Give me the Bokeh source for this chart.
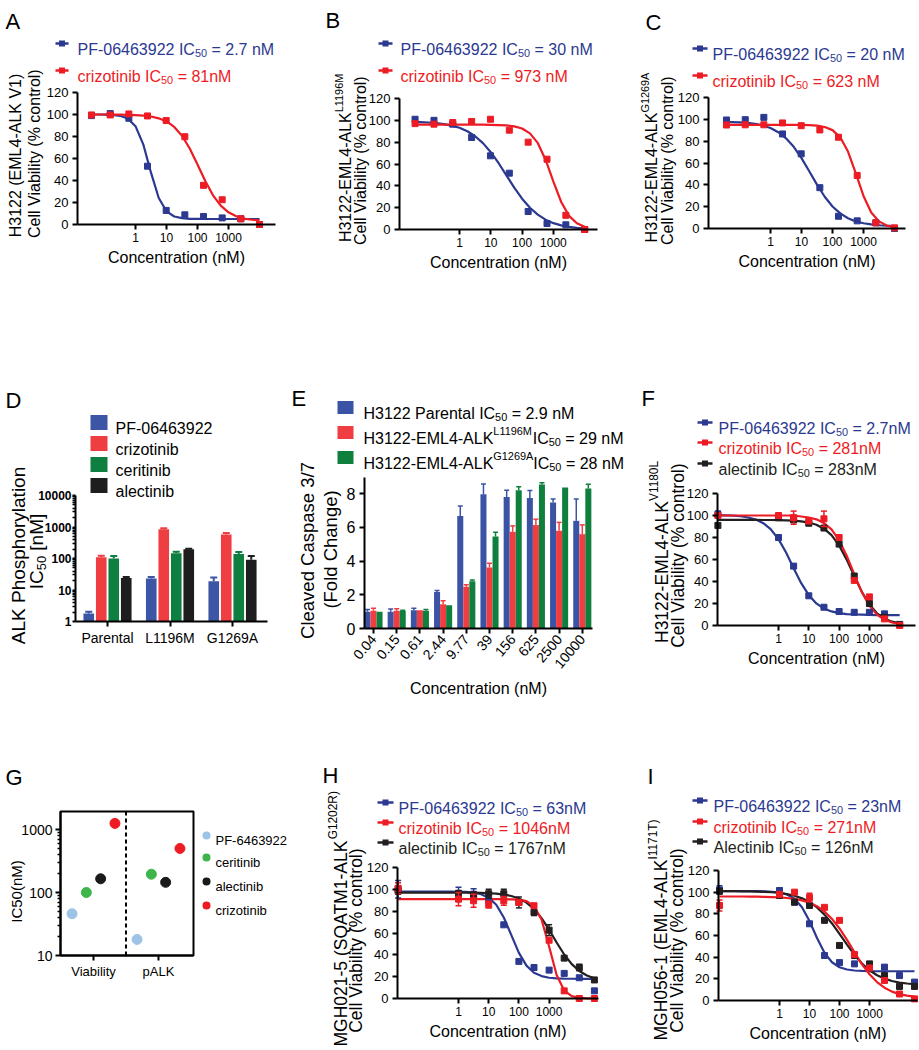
import math
from bokeh.plotting import figure
from bokeh.models import (Label, BoxAnnotation, Range1d, FixedTicker, NumeralTickFormatter,
                          LinearAxis, LogAxis)
from bokeh.layouts import row, column
from bokeh.embed import file_html
from bokeh.resources import INLINE

FONT = "Liberation Sans"
BLUE = "#2B3990"
RED = "#ED1C24"
BLACK = "#231F20"

# ---------------------------------------------------------------- data
X_TICKS = [1, 10, 100, 1000]
Y_TICKS = [0, 20, 40, 60, 80, 100, 120]

CONC_4FOLD = [0.038, 0.153, 0.61, 2.44, 9.77, 39.1, 156, 625, 2500, 10000]
CONC_HALFLOG = [0.01, 1, 3.16, 10, 31.6, 100, 316, 1000, 3162, 10000, 31623]

CURVE_X_ABC = [0.0316, 0.0562, 0.1, 0.178, 0.316, 0.562, 1, 1.78, 3.16, 5.62, 10, 17.8,
               31.6, 56.2, 100, 178, 316, 562, 1000, 1778, 3162, 5623, 10000]
CURVE_X_F = [0.01, 0.0178, 0.0316, 0.0562, 0.1, 0.178, 0.316, 0.562, 1, 1.78, 3.16, 5.62,
             10, 17.8, 31.6, 56.2, 100, 178, 316, 562, 1000, 1778, 3162, 5623, 10000]
CURVE_X_HI = [0.01, 0.0178, 0.0316, 0.0562, 0.1, 0.178, 0.316, 0.562, 1, 1.78, 3.16, 5.62,
              10, 17.8, 31.6, 56.2, 100, 178, 316, 562, 1000, 1778, 3162, 5623, 10000,
              17783, 31623]

# Panel A
A_PF = [99, 100.8, 96.6, 53, 12.8, 8.8, 7.3, 6, 5.2, 0]
A_CRIZ = [99.6, 99.6, 100.5, 98.7, 94.5, 79.8, 35.6, 22.5, 5.2, 0]
A_PF_FIT = [100, 100, 99.9, 99.6, 98.8, 96.4, 89.4, 72.9, 47.1, 24.1, 12.0, 7.3, 5.8, 5.2,
            5.1, 5.0, 5.0, 5.0, 5.0, 5.0, 5.0, 5.0, 5.0]
A_CRIZ_FIT = [100, 100, 100, 99.9, 99.8, 99.7, 99.5, 99.0, 98.2, 96.5, 93.7, 88.7, 80.7,
              69.1, 54.6, 39.5, 26.5, 17.1, 11.1, 7.5, 5.4, 4.3, 3.7]
# Panel B
B_PF = [101, 100, 96.5, 84.3, 67.5, 51.6, 16.5, 5.5, 4.3, 0]
B_CRIZ = [97, 96.5, 98, 99, 101, 91, 80, 64.4, 13, 0]
B_PF_FIT = [98.6, 98.4, 98.0, 97.4, 96.5, 95.2, 93.2, 90.0, 85.4, 79.1, 70.8, 60.7, 49.5,
            38.3, 28.2, 19.9, 13.6, 9.0, 5.8, 3.8, 2.4, 1.5, 1.0]
B_CRIZ_FIT = [96.0, 96.0, 96.0, 96.0, 96.0, 96.0, 96.0, 96.0, 96.0, 96.0, 95.9, 95.7, 95.4,
              94.5, 92.5, 88.1, 79.3, 63.9, 43.9, 25.2, 12.5, 5.7, 2.5]
# Panel C
C_PF = [99.4, 99.7, 101.8, 86.6, 68.4, 37.4, 11.2, 7.0, 5.2, 0]
C_CRIZ = [94.8, 95, 95, 96.7, 94.2, 90.3, 83.6, 48.6, 5.2, 0.6]
C_PF_FIT = [97.7, 97.5, 97.2, 96.7, 95.8, 94.4, 92.0, 88.2, 82.6, 74.8, 64.5, 52.5, 40.2,
            29.1, 20.2, 13.8, 9.4, 6.5, 4.8, 3.7, 3.0, 2.6, 2.3]
C_CRIZ_FIT = [95.0, 95.0, 95.0, 95.0, 95.0, 95.0, 95.0, 95.0, 95.0, 94.9, 94.9, 94.7, 94.2,
              93.0, 90.1, 83.5, 70.5, 50.7, 29.8, 14.6, 6.5, 2.7, 1.1]
# Panel D
D_GROUPS = ["Parental", "L1196M", "G1269A"]
D_DRUGS = ["PF-06463922", "crizotinib", "ceritinib", "alectinib"]
D_PF = [1.8, 23, 19]
D_CRIZ = [110, 850, 580]
D_CERI = [100, 147, 140]
D_ALEC = [24, 195, 91]
D_PF_ERR = [0.25, 3, 6]
D_CRIZ_ERR = [12, 60, 70]
D_CERI_ERR = [20, 18, 20]
D_ALEC_ERR = [2, 10, 29]
# Panel E
E_CONC = ["0.04", "0.15", "0.61", "2.44", "9.77", "39", "156", "625", "2500", "10000"]
E_PAR = [1.0, 1.0, 1.08, 2.17, 6.66, 7.96, 7.8, 7.73, 7.47, 6.38]
E_PAR_ERR = [0.12, 0.15, 0.12, 0.08, 0.6, 0.6, 0.4, 0.45, 0.2, 1.3]
E_L1196M = [1.05, 1.05, 1.08, 1.44, 2.47, 3.62, 5.73, 6.13, 5.79, 5.59]
E_L1196M_ERR = [0.15, 0.12, 0.0, 0.2, 0.12, 0.25, 0.35, 0.35, 0.5, 0.55]
E_G1269A = [1.0, 1.03, 1.05, 1.38, 2.8, 5.45, 8.2, 8.54, 8.36, 8.3]
E_G1269A_ERR = [0.0, 0.05, 0.08, 0.0, 0.07, 0.25, 0.2, 0.1, 0.0, 0.25]
# Panel F
F_PF = [101, 80, 54, 27, 16.6, 12.7, 12, 12, 10.6]
F_CRIZ = [100, 100, 98, 95, 97, 80, 41, 26, 6, 0]
F_ALEC = [91, 98, 96, 93, 88.6, 74, 45, 20, 7.5, 1]
F_PF_ERR = [3, 0, 0, 0, 0, 0, 0, 0, 0]
F_CRIZ_ERR = [0, 0, 6, 0, 7, 0, 0, 0, 0, 0]
F_ALEC_ERR = [0, 2, 2, 2, 2, 0, 0, 0, 0, 0]
F_PF_FIT = [100.3, 100.1, 99.9, 99.3, 98.2, 96.3, 93.0, 87.3, 78.5, 66.3, 52.1, 38.5, 27.6,
            20.1, 15.4, 12.8, 11.2, 10.4, 10.0, 9.8, 9.6, 9.5, 9.5, 9.5, 9.5]
F_CRIZ_FIT = [100.0, 100.0, 100.0, 100.0, 100.0, 100.0, 100.0, 100.0, 100.0, 100.0, 100.0,
              99.1, 98.2, 96.5, 93.2, 87.4, 77.6, 63.5, 46.6, 30.4, 18.0, 9.9, 5.2, 2.7, 1.4]
F_ALEC_FIT = [96.0, 96.0, 96.0, 96.0, 96.0, 96.0, 95.9, 95.9, 95.8, 95.6, 95.3, 94.7, 93.6,
              91.6, 88.0, 82.1, 72.8, 59.9, 44.9, 30.6, 19.1, 11.1, 6.2, 3.5, 1.9]
# Panel G
G_CATS = ["Viability", "pALK"]
G_DRUGS = ["PF-6463922", "ceritinib", "alectinib", "crizotinib"]
G_VIABILITY = [46, 100, 165, 1250]
G_PALK = [18, 195, 145, 500]
# Panel H
H_PF = [100, 96, 95.5, 90, 67.5, 34, 28.4, 26, 23, 19, 7]
H_CRIZ = [101, 91, 89.5, 86, 89.5, 88, 85, 53.4, 7, 0, 0]
H_ALEC = [98.6, 96, 95, 96, 96, 88, 79, 62.6, 37, 28.4, 17]
H_PF_ERR = [8, 6, 5, 0, 0, 0, 0, 0, 0, 0, 0]
H_CRIZ_ERR = [5, 6, 6, 3, 4, 0, 0, 0, 0, 0, 0]
H_ALEC_ERR = [3, 3, 0, 4, 4, 5, 3, 5, 0, 3, 0]
H_PF_FIT = [98.0, 98.0, 98.0, 98.0, 98.0, 98.0, 98.0, 97.9, 97.8, 97.6, 97.0, 95.5, 92.4,
            85.9, 74.2, 58.0, 41.8, 30.1, 23.6, 20.5, 19.0, 18.5, 18.2, 18.1, 18.0, 18.0, 18.0]
H_CRIZ_FIT = [91.0, 91.0, 91.0, 91.0, 91.0, 91.0, 91.0, 91.0, 91.0, 91.0, 91.0, 91.0, 91.0,
              91.0, 91.0, 90.8, 90.5, 89.2, 84.8, 72.3, 47.6, 21.5, 7.3, 2.2, 0.7, 0.2, 0.0]
H_ALEC_FIT = [97.0, 97.0, 97.0, 97.0, 97.0, 97.0, 97.0, 97.0, 96.9, 96.9, 96.8, 96.7, 96.4,
              96.0, 95.2, 93.9, 91.6, 87.8, 82.0, 73.6, 63.0, 51.3, 40.3, 31.5, 25.2, 21.1, 18.5]
# Panel I
I_PF = [102, 101.5, 90.8, 70.8, 41.5, 35, 33.8, 33, 30.8, 23, 17]
I_CRIZ = [87.7, 98, 100, 95, 86, 74, 42.5, 30, 18.5, 6, 1.5]
I_ALEC = [101, 97, 90.8, 87.7, 74, 50.8, 41.5, 33.8, 23, 13, 13]
I_PF_ERR = [4, 2, 0, 0, 0, 0, 0, 0, 0, 0, 0]
I_CRIZ_ERR = [5, 0, 0, 4, 0, 0, 0, 0, 0, 0, 0]
I_ALEC_ERR = [0, 2, 0, 0, 0, 0, 0, 0, 0, 0, 0]
I_PF_FIT = [101.0, 101.0, 101.0, 101.0, 101.0, 100.9, 100.8, 100.4, 99.7, 97.8, 93.9, 86.1,
            73.4, 57.7, 44.0, 35.3, 30.7, 28.6, 27.7, 27.3, 27.1, 27.0, 27.0, 27.0, 27.0,
            27.0, 27.0]
I_CRIZ_FIT = [96.0, 96.0, 96.0, 96.0, 95.9, 95.8, 95.7, 95.5, 95.2, 94.6, 93.8, 92.4, 90.3,
              87.1, 82.2, 75.3, 66.5, 56.0, 44.4, 33.4, 24.2, 17.0, 11.8, 8.2, 5.9, 4.5, 3.5]
I_ALEC_FIT = [101.0, 101.0, 100.9, 100.8, 100.7, 100.5, 100.3, 99.9, 99.3, 98.2, 96.7, 94.3,
              90.9, 85.9, 79.3, 71.1, 61.5, 51.5, 42.2, 34.2, 27.9, 23.3, 20.2, 18.0, 16.5,
              15.7, 15.0]

# ---------------------------------------------------------------- layout (page px)
GEO = {
    "A": dict(L=0, T=0, W=300, H=330),
    "B": dict(L=300, T=0, W=305, H=330),
    "C": dict(L=605, T=0, W=313, H=330),
    "D": dict(L=0, T=330, W=290, H=370),
    "E": dict(L=290, T=330, W=350, H=370),
    "F": dict(L=640, T=330, W=278, H=370),
    "G": dict(L=0, T=700, W=300, H=348),
    "H": dict(L=300, T=700, W=305, H=348),
    "I": dict(L=605, T=700, W=313, H=348),
}
# dose-response panels: page x of "1", px per decade, axis ends, page y of 0 and 120
CAL = {
    "A": dict(one=135, dec=31.0, ax0=77, ax1=275, y0=224, y120=92),
    "B": dict(one=459, dec=31.3, ax0=399, ax1=597, y0=229, y120=98),
    "C": dict(one=770, dec=31.0, ax0=708, ax1=905, y0=228, y120=97),
    "F": dict(one=778, dec=30.3, ax0=717, ax1=915, y0=625, y120=493),
    "H": dict(one=458, dec=30.2, ax0=397, ax1=598, y0=998, y120=867),
    "I": dict(one=779, dec=30.0, ax0=718, ax1=917, y0=1000, y120=870),
}

CHAR_W = {' ': 278, '%': 889, '(': 333, ')': 333, '-': 333, '.': 278, '/': 278, '=': 584,
          '[': 278, ']': 278, 'A': 667, 'B': 667, 'C': 722, 'D': 722, 'E': 667, 'F': 611,
          'G': 778, 'H': 722, 'I': 278, 'K': 667, 'L': 556, 'M': 833, 'N': 722, 'P': 667,
          'Q': 778, 'R': 722, 'S': 667, 'T': 611, 'V': 667, 'a': 556, 'b': 556, 'c': 500,
          'd': 556, 'e': 556, 'f': 278, 'g': 556, 'h': 556, 'i': 222, 'k': 500, 'l': 222,
          'm': 833, 'n': 556, 'o': 556, 'p': 556, 'r': 333, 's': 500, 't': 278, 'u': 556,
          'v': 500, 'y': 500, 'z': 500}


def tw(s, size):
    return sum(CHAR_W.get(c, 556) for c in s) * size / 1000.0


def interp(pa, va, pb, vb, P):
    return va + (P - pa) * (vb - va) / (pb - pa)


def setup(key, xlog, ylog, xmap, ymap):
    g = GEO[key]
    xl = interp(*xmap, g["L"])
    xr = interp(*xmap, g["L"] + g["W"])
    yb = interp(*ymap, g["T"] + g["H"])
    yt = interp(*ymap, g["T"])
    if xlog:
        xl, xr = 10 ** xl, 10 ** xr
    if ylog:
        yb, yt = 10 ** yb, 10 ** yt
    p = figure(width=g["W"], height=g["H"],
               x_axis_type="log" if xlog else "linear",
               y_axis_type="log" if ylog else "linear",
               x_axis_location=None, y_axis_location=None,
               x_range=Range1d(xl, xr), y_range=Range1d(yb, yt),
               min_border_left=0, min_border_right=0, min_border_top=0, min_border_bottom=0,
               output_backend="svg", toolbar_location=None, title=None)
    p.outline_line_color = None
    p.xgrid.visible = False
    p.ygrid.visible = False
    p.background_fill_color = "white"
    p.border_fill_color = "white"

    def X(px):
        v = interp(*xmap, px)
        return 10 ** v if xlog else v

    def Y(py):
        v = interp(*ymap, py)
        return 10 ** v if ylog else v

    return p, g, X, Y


def style_axis(ax, size, standoff, tick_out=5):
    ax.axis_line_width = 2
    ax.axis_line_color = "black"
    ax.major_tick_line_width = 2
    ax.major_tick_line_color = "black"
    ax.major_tick_in = 0
    ax.major_tick_out = tick_out
    ax.minor_tick_in = 0
    ax.minor_tick_out = 3
    ax.minor_tick_line_width = 1.5
    ax.minor_tick_line_color = "black"
    ax.major_label_text_font = FONT
    ax.major_label_text_color = "black"
    ax.major_label_text_font_size = f"{size}px"
    ax.major_label_standoff = standoff
    ax.axis_label_text_font = FONT
    ax.axis_label_text_font_style = "normal"
    ax.axis_label_text_font_size = "16px"
    ax.axis_label_text_color = "black"
    ax.axis_label_standoff = 4


def add_axes(p, xax, yax, xsize, ysize, ystandoff=4, ytick=5):
    style_axis(xax, xsize, 3)
    style_axis(yax, ysize, ystandoff, ytick)
    p.add_layout(xax, "below")
    p.add_layout(yax, "left")


def rich(p, g, parts, x, y, size, color, vertical=False, anchor="left"):
    """parts: list of (text, kind) with kind n / sub / sup; x,y page px of baseline start."""
    items = []
    total = 0.0
    for txt, kind in parts:
        fs = size if kind == "n" else round(size * 0.68, 1)
        w = tw(txt, fs)
        items.append((txt, kind, fs, w))
        total += w
    d = 0.0 if anchor == "left" else (-total / 2 if anchor == "center" else -total)
    for txt, kind, fs, w in items:
        lead = len(txt) - len(txt.lstrip(" "))
        shift = tw(" " * lead, fs)
        core = txt.strip(" ")
        u = 0.0 if kind == "n" else (-0.24 * size if kind == "sub" else 0.42 * size)
        dd = d + shift
        if vertical:
            px, py, ang = x - u, y - dd, math.pi / 2
        else:
            px, py, ang = x + dd, y - u, 0.0
        if core:
            p.add_layout(Label(x=px - g["L"], y=g["T"] + g["H"] - py, x_units="screen",
                               y_units="screen", text=core, angle=ang, text_font=FONT,
                               text_font_size=f"{fs}px", text_color=color, text_align="left",
                               text_baseline="alphabetic"))
        d += w


def box(p, g, x0, y0, x1, y1, color, radius=0):
    kw = {}
    if radius:
        kw["border_radius"] = radius
    bottom_ref = g["T"] + g["H"]
    p.add_layout(BoxAnnotation(left=x0 - g["L"], right=x1 - g["L"],
                               top=bottom_ref - y0, bottom=bottom_ref - y1,
                               left_units="screen", right_units="screen",
                               top_units="screen", bottom_units="screen",
                               fill_color=color, fill_alpha=1.0, line_color=None, **kw))


def letter(p, g, ch, x, y):
    rich(p, g, [(ch, "n")], x, y, 22, "black")


def curve_legend(p, g, rows, mx0, mx1, tx):
    for yc, color, parts in rows:
        box(p, g, mx0, yc - 1.2, mx1, yc + 1.2, color)
        mid = (mx0 + mx1) / 2
        box(p, g, mid - 3, yc - 3, mid + 3, yc + 3, color)
        rich(p, g, parts, tx, yc + 5.7, 16, color)


def errbars(p, xs, ys, es, color):
    xx = [x for x, e in zip(xs, es) if e > 0]
    lo = [y - e for y, e in zip(ys, es) if e > 0]
    hi = [y + e for y, e in zip(ys, es) if e > 0]
    if not xx:
        return
    p.segment(x0=xx, y0=lo, x1=xx, y1=hi, line_color=color, line_width=1.5)
    p.scatter(x=xx + xx, y=lo + hi, marker="dash", size=6, line_color=color, line_width=1.5)


def curve_panel(key, curve_x, series):
    c = CAL[key]
    p, g, X, Y = setup(key, True, False, (c["one"], 0, c["one"] + c["dec"], 1),
                       (c["y0"], 0, c["y120"], 120))
    xlo, xhi = X(c["ax0"]), X(c["ax1"])
    xax = LogAxis(fixed_location=0, bounds=(xlo, xhi), ticker=FixedTicker(ticks=X_TICKS),
                  formatter=NumeralTickFormatter(format="0"), axis_label="Concentration (nM)")
    yax = LinearAxis(fixed_location=xlo, bounds=(0, 120), ticker=FixedTicker(ticks=Y_TICKS))
    add_axes(p, xax, yax, 12, 13)
    for fit, px, py, pe, color in series:
        p.line(curve_x, fit, line_color=color, line_width=2.2)
    for fit, px, py, pe, color in series:
        if pe is not None:
            errbars(p, px, py, pe, color)
        p.scatter(px, py, marker="square", size=6, fill_color=color, line_color=color)
    return p, g


def IC(name, val):
    return [(name + " IC", "n"), ("50", "sub"), (" = " + val, "n")]


# ---------------------------------------------------------------- A
pA, gA = curve_panel("A", CURVE_X_ABC,
                     [(A_PF_FIT, CONC_4FOLD, A_PF, None, BLUE),
                      (A_CRIZ_FIT, CONC_4FOLD, A_CRIZ, None, RED)])
letter(pA, gA, "A", 5, 21)
curve_legend(pA, gA, [(43, BLUE, IC("PF-06463922", "2.7 nM")),
                      (70, RED, IC("crizotinib", "81nM"))], 55, 68, 77)
rich(pA, gA, [("H3122 (EML4-ALK V1)", "n")], 15, 155, 16, "black", True, "center")
rich(pA, gA, [("Cell Viability (% control)", "n")], 34, 153, 16, "black", True, "center")

# ---------------------------------------------------------------- B
pB, gB = curve_panel("B", CURVE_X_ABC,
                     [(B_PF_FIT, CONC_4FOLD, B_PF, None, BLUE),
                      (B_CRIZ_FIT, CONC_4FOLD, B_CRIZ, None, RED)])
letter(pB, gB, "B", 325, 20)
curve_legend(pB, gB, [(43, BLUE, IC("PF-06463922", "30 nM")),
                      (70, RED, IC("crizotinib", "973 nM"))], 378, 392, 400)
rich(pB, gB, [("H3122-EML4-ALK", "n"), ("L1196M", "sup")], 345, 157, 16, "black", True, "center")
rich(pB, gB, [("Cell Viability (% control)", "n")], 360, 160, 16, "black", True, "center")

# ---------------------------------------------------------------- C
pC, gC = curve_panel("C", CURVE_X_ABC,
                     [(C_PF_FIT, CONC_4FOLD, C_PF, None, BLUE),
                      (C_CRIZ_FIT, CONC_4FOLD, C_CRIZ, None, RED)])
letter(pC, gC, "C", 645, 22)
curve_legend(pC, gC, [(48, BLUE, IC("PF-06463922", "20 nM")),
                      (75, RED, IC("crizotinib", "623 nM"))], 692, 707, 712)
rich(pC, gC, [("H3122-EML4-ALK", "n"), ("G1269A", "sup")], 651, 157, 16, "black", True, "center")
rich(pC, gC, [("Cell Viability (% control)", "n")], 667, 160, 16, "black", True, "center")

# ---------------------------------------------------------------- D
pD, gD, XD, YD = setup("D", False, True, (107, 0, 169.5, 1), (621, 0, 495, 4))
D_X0, D_X1 = XD(75), XD(267)
xax = LinearAxis(fixed_location=1, bounds=(D_X0, D_X1), ticker=FixedTicker(ticks=[0, 1, 2]),
                 major_label_overrides={i: name for i, name in enumerate(D_GROUPS)})
yax = LogAxis(fixed_location=D_X0, bounds=(1, 10000),
              ticker=FixedTicker(ticks=[1, 10, 100, 1000, 10000],
                                 minor_ticks=[m * d for d in (1, 10, 100, 1000) for m in range(2, 10)]),
              formatter=NumeralTickFormatter(format="0"))
add_axes(pD, xax, yax, 14, 12, ystandoff=1, ytick=3)
yax.major_label_text_font_style = "bold"
D_COLORS = ["#3D55A5", "#EE3E42", "#0E7F40", "#1E1E1E"]
for vals, errs, color, off in zip([D_PF, D_CRIZ, D_CERI, D_ALEC],
                                  [D_PF_ERR, D_CRIZ_ERR, D_CERI_ERR, D_ALEC_ERR],
                                  D_COLORS, [-0.3, -0.1, 0.1, 0.3]):
    xs = [i + off for i in range(len(D_GROUPS))]
    hi = [v + e for v, e in zip(vals, errs)]
    pD.vbar(x=xs, top=vals, bottom=1, width=0.17, fill_color=color, line_color=None)
    pD.segment(x0=xs, y0=vals, x1=xs, y1=hi, line_color=color, line_width=2)
    pD.scatter(x=xs, y=hi, marker="dash", size=7, line_color=color, line_width=2)
letter(pD, gD, "D", 5, 400)
for yc, name, color in zip([422, 443, 464, 485], D_DRUGS, D_COLORS):
    box(pD, gD, 90, yc - 7.5, 107, yc + 7.5, color)
    rich(pD, gD, [(name, "n")], 115, yc + 5.7, 16, "black")
rich(pD, gD, [("ALK Phosphorylation", "n")], 18, 555, 19, "black", True, "center")
rich(pD, gD, [("IC", "n"), ("50", "sub"), (" [nM]", "n")], 36, 551, 19, "black", True, "center")

# ---------------------------------------------------------------- E
pE, gE, XE, YE = setup("E", False, False, (373, 0, 396.2, 1), (628, 0, 493, 8))
xax = LinearAxis(fixed_location=0, bounds=(XE(364), XE(592)),
                 ticker=FixedTicker(ticks=list(range(len(E_CONC)))),
                 major_label_overrides={i: c for i, c in enumerate(E_CONC)},
                 major_label_orientation=0.87, axis_label="Concentration (nM)")
yax = LinearAxis(fixed_location=XE(364), bounds=(0, YE(477)),
                 ticker=FixedTicker(ticks=[0, 2, 4, 6, 8]))
add_axes(pE, xax, yax, 14, 16)
E_COLORS = ["#3A53A4", "#EF3D42", "#0F7F3E"]
for vals, errs, color, off in zip([E_PAR, E_L1196M, E_G1269A],
                                  [E_PAR_ERR, E_L1196M_ERR, E_G1269A_ERR],
                                  E_COLORS, [-0.26, 0.0, 0.26]):
    xs = [i + off for i in range(len(E_CONC))]
    pE.vbar(x=xs, top=vals, bottom=0, width=0.26, fill_color=color, line_color=None)
    ex = [x for x, e in zip(xs, errs) if e > 0]
    ey = [v for v, e in zip(vals, errs) if e > 0]
    eh = [v + e for v, e in zip(vals, errs) if e > 0]
    pE.segment(x0=ex, y0=ey, x1=ex, y1=eh, line_color=color, line_width=1.5)
    pE.scatter(x=ex, y=eh, marker="dash", size=5, line_color=color, line_width=1.5)
letter(pE, gE, "E", 291, 398)
E_LEG = [[("H3122 Parental IC", "n"), ("50", "sub"), (" = 2.9 nM", "n")],
         [("H3122-EML4-ALK", "n"), ("L1196M", "sup"), ("IC", "n"), ("50", "sub"), (" = 29 nM", "n")],
         [("H3122-EML4-ALK", "n"), ("G1269A", "sup"), ("IC", "n"), ("50", "sub"), (" = 28 nM", "n")]]
for yc, parts, color in zip([407, 432, 457], E_LEG, E_COLORS):
    box(pE, gE, 337, yc - 6.5, 353, yc + 6.5, color)
    rich(pE, gE, parts, 363, yc + 5.7, 16, "black")
rich(pE, gE, [("Cleaved Caspase 3/7", "n")], 307, 550, 18.5, "black", True, "center")
rich(pE, gE, [("(Fold Change)", "n")], 330, 549, 18.5, "black", True, "center")

# ---------------------------------------------------------------- F
pF, gF = curve_panel("F", CURVE_X_F,
                     [(F_PF_FIT, CONC_HALFLOG[:9], F_PF, F_PF_ERR, BLUE),
                      (F_ALEC_FIT, CONC_HALFLOG[:10], F_ALEC, F_ALEC_ERR, BLACK),
                      (F_CRIZ_FIT, CONC_HALFLOG[:10], F_CRIZ, F_CRIZ_ERR, RED)])
letter(pF, gF, "F", 641, 398)
curve_legend(pF, gF, [(422, BLUE, IC("PF-06463922", "2.7nM")),
                      (442, RED, IC("crizotinib", "281nM")),
                      (463, BLACK, IC("alectinib", "283nM"))], 697, 712, 718)
rich(pF, gF, [("H3122-EML4-ALK", "n"), ("V1180L", "sup")], 661, 551, 17.5, "black", True, "center")
rich(pF, gF, [("Cell Viability (% control)", "n")], 677, 555, 17.5, "black", True, "center")

# ---------------------------------------------------------------- G
pG, gG, XG, YG = setup("G", False, True, (93, 0, 158, 1), (955, 1, 829, 3))
G_X0, G_X1, G_YTOP = XG(60), XG(193), YG(811)
xax = LinearAxis(fixed_location=10, bounds=(G_X0, G_X1), ticker=FixedTicker(ticks=[0, 1]),
                 major_label_overrides={i: c for i, c in enumerate(G_CATS)})
yax = LogAxis(fixed_location=G_X0, bounds=(10, G_YTOP),
              ticker=FixedTicker(ticks=[10, 100, 1000],
                                 minor_ticks=[m * d for d in (10, 100) for m in range(2, 10)]),
              formatter=NumeralTickFormatter(format="0"))
add_axes(pG, xax, yax, 13, 14, ystandoff=3)
pG.add_layout(BoxAnnotation(left=G_X0, right=G_X1, bottom=10, top=G_YTOP, fill_alpha=0,
                            line_color="black", line_alpha=1.0, line_width=2))
pG.segment(x0=[0.5], y0=[10], x1=[0.5], y1=[G_YTOP], line_color="black", line_width=2,
           line_dash="4 3")
G_COLORS = ["#9DC3E6", "#3DB54A", "#1A1A1A", "#ED1C24"]
for i, (color, off) in enumerate(zip(G_COLORS, [-0.33, -0.11, 0.11, 0.33])):
    pG.scatter(x=[j + off for j in range(len(G_CATS))], y=[G_VIABILITY[i], G_PALK[i]],
               marker="circle", size=10, fill_color=color, line_color=color)
letter(pG, gG, "G", 5, 777)
for yc, name, color in zip([835, 857, 881, 905], G_DRUGS, G_COLORS):
    box(pG, gG, 202, yc - 4, 210, yc + 4, color, radius=4)
    rich(pG, gG, [(name, "n")], 215, yc + 4.6, 13, "black")
rich(pG, gG, [("IC50(nM)", "n")], 16, 891, 15, "black", True, "center")

# ---------------------------------------------------------------- H
pH, gH = curve_panel("H", CURVE_X_HI,
                     [(H_PF_FIT, CONC_HALFLOG, H_PF, H_PF_ERR, BLUE),
                      (H_ALEC_FIT, CONC_HALFLOG, H_ALEC, H_ALEC_ERR, BLACK),
                      (H_CRIZ_FIT, CONC_HALFLOG, H_CRIZ, H_CRIZ_ERR, RED)])
letter(pH, gH, "H", 322, 775)
curve_legend(pH, gH, [(802, BLUE, IC("PF-06463922", "63nM")),
                      (822, RED, IC("crizotinib", "1046nM")),
                      (842, BLACK, IC("alectinib", "1767nM"))], 377, 393, 398)
rich(pH, gH, [("MGH021-5 (SQATM1-ALK", "n"), ("G1202R)", "sup")], 340, 1046, 17.5, "black", True, "left")
rich(pH, gH, [("Cell Viability (% control)", "n")], 355, 940, 17.5, "black", True, "center")

# ---------------------------------------------------------------- I
pI, gI = curve_panel("I", CURVE_X_HI,
                     [(I_PF_FIT, CONC_HALFLOG, I_PF, I_PF_ERR, BLUE),
                      (I_ALEC_FIT, CONC_HALFLOG, I_ALEC, I_ALEC_ERR, BLACK),
                      (I_CRIZ_FIT, CONC_HALFLOG, I_CRIZ, I_CRIZ_ERR, RED)])
letter(pI, gI, "I", 647, 776)
curve_legend(pI, gI, [(800, BLUE, IC("PF-06463922", "23nM")),
                      (821, RED, IC("crizotinib", "271nM")),
                      (841, BLACK, IC("Alectinib", "126nM"))], 692, 707, 713)
rich(pI, gI, [("MGH056-1 (EML4-ALK", "n"), ("I1171T)", "sup")], 660, 1040, 17.5, "black", True, "left")
rich(pI, gI, [("Cell Viability (% control)", "n")], 676, 940, 17.5, "black", True, "center")

layout = column(row(pA, pB, pC), row(pD, pE, pF), row(pG, pH, pI))
open("out.html", "w").write(file_html(layout, INLINE))
